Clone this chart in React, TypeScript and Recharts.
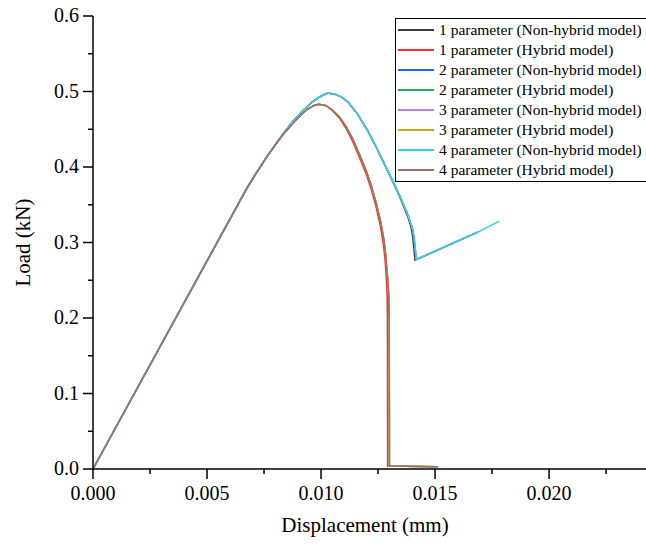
import React from 'react';
import { Line, LineChart, XAxis, YAxis } from 'recharts';

const FONT = '"Liberation Serif", "Times New Roman", serif';

// tick values (major + minor, alternating)
const xTicks = [0, 0.0025, 0.005, 0.0075, 0.01, 0.0125, 0.015, 0.0175, 0.02, 0.0225];
const yTicks = [0, 0.05, 0.1, 0.15, 0.2, 0.25, 0.3, 0.35, 0.4, 0.45, 0.5, 0.55, 0.6];

// displacement (mm), load (kN)
const elastic: [number, number][] = [
  [0, 0],
  [0.00675, 0.372],
];

const nonHybridPeak: [number, number][] = [
  [0.0072, 0.394], [0.0076, 0.4125], [0.008, 0.43], [0.0084, 0.4465], [0.0088, 0.4615],
  [0.0092, 0.4745], [0.0096, 0.486], [0.01, 0.494], [0.0103, 0.498], [0.0106, 0.4965],
  [0.0109, 0.4925], [0.0112, 0.4855], [0.0116, 0.47], [0.012, 0.4505], [0.0124, 0.4275],
  [0.0128, 0.4025],
];

const nonHybridDrop: [number, number][] = [
  [0.0132, 0.378], [0.0135, 0.3585], [0.0138, 0.337], [0.014, 0.3195], [0.01408, 0.306],
  [0.01413, 0.292], [0.01417, 0.2775], [0.0169, 0.314],
];

const nonHybridDrop1: [number, number][] = [
  [0.0132, 0.377], [0.0135, 0.357], [0.0138, 0.3345], [0.01395, 0.32], [0.01402, 0.307],
  [0.01408, 0.29], [0.01412, 0.2765], [0.0169, 0.314],
];

const nonHybridTail4: [number, number][] = [[0.0178, 0.328]];

const hybridPeak: [number, number][] = [
  [0.0072, 0.394], [0.0076, 0.4125], [0.008, 0.4295], [0.0084, 0.4455], [0.0088, 0.459],
  [0.0091, 0.4685], [0.0094, 0.4765], [0.0097, 0.4815], [0.0099, 0.483], [0.0102, 0.4815],
];

const hybridDrop: [number, number][] = [
  [0.0105, 0.4755], [0.0108, 0.4665], [0.0111, 0.4535], [0.0114, 0.4365], [0.0117, 0.4155],
  [0.012, 0.3935], [0.0122, 0.3755], [0.0124, 0.3545], [0.0126, 0.3295], [0.01275, 0.305],
  [0.01283, 0.285], [0.0129, 0.26], [0.01296, 0.235], [0.01299, 0.2], [0.013, 0.004],
  [0.0151, 0.003],
];

const hybridDrop1: [number, number][] = [
  [0.0105, 0.4745], [0.0108, 0.465], [0.0111, 0.451], [0.0114, 0.433], [0.0117, 0.4115],
  [0.012, 0.389], [0.0122, 0.3705], [0.0124, 0.349], [0.0126, 0.322], [0.01272, 0.3],
  [0.0128, 0.28], [0.01286, 0.255], [0.0129, 0.23], [0.01291, 0.2], [0.01292, 0.004],
  [0.0151, 0.003],
];

const hybridTail2: [number, number][] = [[0.01515, 0.003]];

const toPts = (rows: [number, number][]) => rows.map(([x, y]) => ({ x, y }));

const series = [
  { name: '1 parameter (Non-hybrid model)', color: '#3a3a3a', data: toPts([...elastic, ...nonHybridPeak, ...nonHybridDrop1]) },
  { name: '1 parameter (Hybrid model)', color: '#ff2a2a', data: toPts([...elastic, ...hybridPeak, ...hybridDrop1]) },
  { name: '2 parameter (Non-hybrid model)', color: '#1d66ee', data: toPts([...elastic, ...nonHybridPeak, ...nonHybridDrop]) },
  { name: '2 parameter (Hybrid model)', color: '#22ad5e', data: toPts([...elastic, ...hybridPeak, ...hybridDrop, ...hybridTail2]) },
  { name: '3 parameter (Non-hybrid model)', color: '#b57cf0', data: toPts([...elastic, ...nonHybridPeak, ...nonHybridDrop]) },
  { name: '3 parameter (Hybrid model)', color: '#d4a020', data: toPts([...elastic, ...hybridPeak, ...hybridDrop]) },
  { name: '4 parameter (Non-hybrid model)', color: '#2fd4dc', data: toPts([...elastic, ...nonHybridPeak, ...nonHybridDrop, ...nonHybridTail4]) },
  { name: '4 parameter (Hybrid model)', color: '#9c7070', data: toPts([...elastic, ...hybridPeak, ...hybridDrop]) },
];

function XTick({ x, y, payload, index }: any) {
  const major = index % 2 === 0;
  return (
    <g>
      <line x1={x} x2={x} y1={y} y2={y + (major ? 10 : 5)} stroke="#000" strokeWidth={1.5} />
      {major && (
        <text x={x} y={y + 31} textAnchor="middle" fontFamily={FONT} fontSize={20} fill="#000">
          {payload.value.toFixed(3)}
        </text>
      )}
    </g>
  );
}

function YTick({ x, y, payload, index }: any) {
  const major = index % 2 === 0;
  return (
    <g>
      <line x1={x} x2={x - (major ? 10 : 5)} y1={y} y2={y} stroke="#000" strokeWidth={1.5} />
      {major && (
        <text x={x - 14} y={y + 6} textAnchor="end" fontFamily={FONT} fontSize={20} fill="#000">
          {payload.value.toFixed(1)}
        </text>
      )}
    </g>
  );
}

function LegendBox() {
  return (
    <div
      style={{
        position: 'absolute',
        left: 395,
        top: 18,
        width: 300,
        border: '1.5px solid #000',
        background: '#fff',
        padding: '1px 0',
        fontFamily: FONT,
        fontSize: 15.5,
        color: '#000',
      }}
    >
      {series.map((s) => (
        <div key={s.name} style={{ display: 'flex', alignItems: 'center', height: 20, whiteSpace: 'nowrap' }}>
          <span style={{ display: 'inline-block', width: 36, height: 1.5, background: s.color, marginLeft: 2, marginRight: 5 }} />
          <span>{s.name}</span>
        </div>
      ))}
    </div>
  );
}

export default function App() {
  return (
    <div style={{ position: 'absolute', left: 0, top: 0, width: 646, height: 544, overflow: 'hidden', background: '#fff' }}>
      <LineChart width={646} height={544} margin={{ top: 16, right: 0, bottom: 0, left: 0 }}>
        <XAxis
          type="number"
          dataKey="x"
          domain={[0, 0.02425]}
          ticks={xTicks}
          interval={0}
          allowDataOverflow
          height={75}
          tickSize={0}
          tickMargin={0}
          tickLine={false}
          tick={<XTick />}
          axisLine={{ stroke: '#000', strokeWidth: 1.5 }}
          label={{
            content: () => (
              <text x={365} y={532} textAnchor="middle" fontFamily={FONT} fontSize={21} fill="#000">
                Displacement (mm)
              </text>
            ),
          }}
        />
        <YAxis
          type="number"
          dataKey="y"
          domain={[0, 0.6]}
          ticks={yTicks}
          interval={0}
          width={93}
          tickSize={0}
          tickMargin={0}
          tickLine={false}
          tick={<YTick />}
          axisLine={{ stroke: '#000', strokeWidth: 1.5 }}
          label={{
            content: ({ viewBox }: any) => (
              <text
                x={30}
                y={viewBox.y + viewBox.height / 2}
                transform={`rotate(-90 30 ${viewBox.y + viewBox.height / 2})`}
                textAnchor="middle"
                fontFamily={FONT}
                fontSize={21}
                fill="#000"
              >
                Load (kN)
              </text>
            ),
          }}
        />
        {series.map((s) => (
          <Line
            key={s.name}
            data={s.data}
            dataKey="y"
            name={s.name}
            type="linear"
            stroke={s.color}
            strokeWidth={1.5}
            dot={false}
            activeDot={false}
            isAnimationActive={false}
          />
        ))}
      </LineChart>
      <LegendBox />
    </div>
  );
}
